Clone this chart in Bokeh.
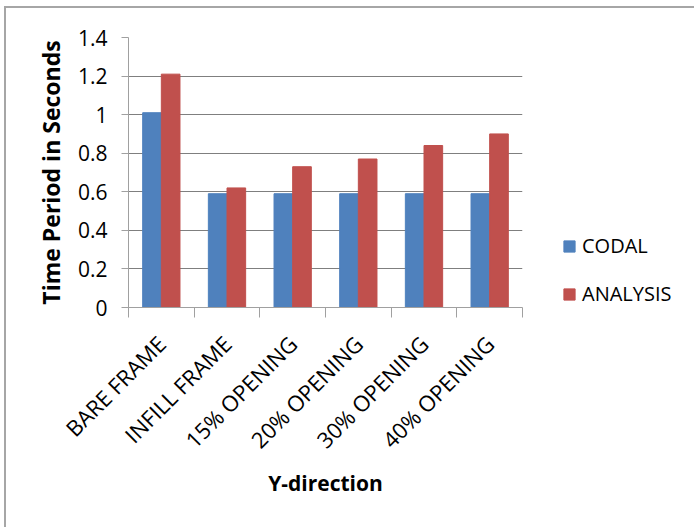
import math
from bokeh.plotting import figure
from bokeh.models import (ColumnDataSource, FixedTicker, NumeralTickFormatter,
                          Legend, LegendItem, Range1d)
from bokeh.transform import dodge
from bokeh.embed import file_html
from bokeh.resources import INLINE

categories = ["BARE FRAME", "INFILL FRAME", "15% OPENING", "20% OPENING",
              "30% OPENING", "40% OPENING"]
codal = [1.01, 0.59, 0.59, 0.59, 0.59, 0.59]
analysis = [1.21, 0.62, 0.73, 0.77, 0.84, 0.90]
series_names = ["CODAL", "ANALYSIS"]
y_ticks = [0, 0.2, 0.4, 0.6, 0.8, 1.0, 1.2, 1.4]
y_title = "Time Period in Seconds"
x_title = "Y-direction"

centers = [i + 0.5 for i in range(len(categories))]
bounds = list(range(len(categories) + 1))
src = ColumnDataSource(dict(x=centers, codal=codal, analysis=analysis))

FONT = "Open Sans"
GRID = "#7f7f7f"
AXIS = "#a0a0a0"

p = figure(frame_width=394, frame_height=270,
           x_range=Range1d(0, len(categories)), y_range=Range1d(0, 1.4),
           output_backend="svg", toolbar_location=None,
           min_border_left=122, min_border_top=29,
           min_border_right=172, min_border_bottom=220,
           margin=(6, 0, 0, 4),
           styles={"border-left": "2px solid #a6a6a6",
                   "border-top": "2px solid #a6a6a6"})
p.outline_line_color = None
p.background_fill_color = "white"
p.border_fill_color = "white"

bw = 0.284
r1 = p.vbar(x=dodge("x", -bw / 2, range=p.x_range), top="codal", width=bw,
            source=src, fill_color="#4F81BD", line_color="#4F81BD")
r2 = p.vbar(x=dodge("x", bw / 2, range=p.x_range), top="analysis", width=bw,
            source=src, fill_color="#C0504D", line_color="#C0504D")

# y axis
yax = p.yaxis[0]
yax.ticker = FixedTicker(ticks=y_ticks)
yax.formatter = NumeralTickFormatter(format="0.[0]")
yax.major_tick_out = 7
yax.major_tick_in = 0
yax.minor_tick_line_color = None
yax.axis_line_color = AXIS
yax.major_tick_line_color = AXIS
yax.major_label_text_font = FONT
yax.major_label_text_font_size = "21px"
yax.major_label_text_color = "black"
yax.major_label_standoff = 14
yax.axis_label = y_title
yax.axis_label_text_font = FONT
yax.axis_label_text_font_style = "bold"
yax.axis_label_text_font_size = "23px"
yax.axis_label_text_color = "black"
yax.axis_label_standoff = 8

# x axis
xax = p.xaxis[0]
xax.ticker = FixedTicker(ticks=centers, minor_ticks=bounds)
xax.major_label_overrides = {c: lab for c, lab in zip(centers, categories)}
xax.major_tick_line_color = None
xax.minor_tick_line_color = AXIS
xax.minor_tick_out = 10
xax.minor_tick_in = 0
xax.axis_line_color = AXIS
xax.major_label_orientation = math.pi / 4
xax.major_label_text_font = FONT
xax.major_label_text_font_size = "22px"
xax.major_label_text_color = "black"
xax.major_label_standoff = 22
xax.axis_label = x_title
xax.axis_label_text_font = FONT
xax.axis_label_text_font_style = "bold"
xax.axis_label_text_font_size = "21px"
xax.axis_label_text_color = "black"
xax.axis_label_standoff = 1

p.xgrid.visible = False
p.ygrid.ticker = FixedTicker(ticks=y_ticks)
p.ygrid.grid_line_color = GRID
p.ygrid.grid_line_width = 1

legend = Legend(items=[LegendItem(label=series_names[0], renderers=[r1]),
                       LegendItem(label=series_names[1], renderers=[r2])],
                location=(40, 0), orientation="vertical")
legend.border_line_color = None
legend.background_fill_alpha = 0
legend.padding = 0
legend.margin = 0
legend.spacing = 21
legend.glyph_width = 14
legend.glyph_height = 14
legend.label_standoff = 6
legend.label_text_font = FONT
legend.label_text_font_size = "20px"
legend.label_text_color = "black"
p.add_layout(legend, "right")

open("out.html", "w").write(file_html(p, INLINE))
